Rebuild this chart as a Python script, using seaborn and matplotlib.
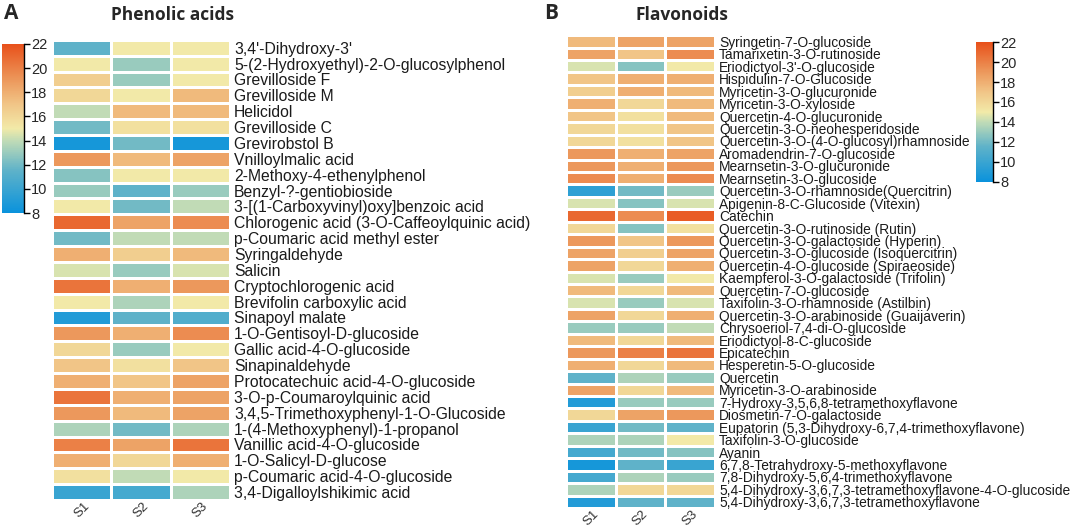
import numpy as np
import pandas as pd
import matplotlib
matplotlib.use("Agg")
import matplotlib.pyplot as plt
import seaborn as sns
from matplotlib.colors import LinearSegmentedColormap

samples = ["S1", "S2", "S3"]

phenolic_names = [
    "3,4'-Dihydroxy-3'",
    "5-(2-Hydroxyethyl)-2-O-glucosylphenol",
    "Grevilloside F",
    "Grevilloside M",
    "Helicidol",
    "Grevilloside C",
    "Grevirobstol B",
    "Vnilloylmalic acid",
    "2-Methoxy-4-ethenylphenol",
    "Benzyl-?-gentiobioside",
    "3-[(1-Carboxyvinyl)oxy]benzoic acid",
    "Chlorogenic acid (3-O-Caffeoylquinic acid)",
    "p-Coumaric acid methyl ester",
    "Syringaldehyde",
    "Salicin",
    "Cryptochlorogenic acid",
    "Brevifolin carboxylic acid",
    "Sinapoyl malate",
    "1-O-Gentisoyl-D-glucoside",
    "Gallic acid-4-O-glucoside",
    "Sinapinaldehyde",
    "Protocatechuic acid-4-O-glucoside",
    "3-O-p-Coumaroylquinic acid",
    "3,4,5-Trimethoxyphenyl-1-O-Glucoside",
    "1-(4-Methoxyphenyl)-1-propanol",
    "Vanillic acid-4-O-glucoside",
    "1-O-Salicyl-D-glucose",
    "p-Coumaric acid-4-O-glucoside",
    "3,4-Digalloylshikimic acid",
]
phenolic_s1 = [11.5, 15.0, 16.5, 16.0, 14.0, 12.0, 8.5, 19.0, 12.5, 13.0, 15.0, 21.0, 12.0, 18.0, 14.5,
               20.5, 15.0, 9.0, 19.0, 16.0, 17.0, 18.0, 20.5, 19.0, 13.5, 20.0, 18.0, 15.5, 10.0]
phenolic_s2 = [15.0, 13.0, 13.0, 15.0, 17.5, 15.5, 12.0, 17.5, 15.0, 11.5, 12.0, 18.5, 14.0, 16.5, 13.0,
               18.0, 13.5, 11.5, 18.0, 13.0, 15.5, 17.0, 18.0, 17.5, 12.0, 18.5, 16.0, 14.0, 10.5]
phenolic_s3 = [15.0, 15.0, 15.0, 17.5, 17.5, 15.5, 8.5, 18.5, 15.0, 13.0, 14.0, 19.5, 14.0, 17.5, 14.5,
               19.0, 15.0, 11.0, 19.5, 15.0, 17.0, 18.5, 18.5, 18.5, 13.5, 20.5, 18.0, 15.0, 13.5]

flavonoid_names = [
    "Syringetin-7-O-glucoside",
    "Tamarixetin-3-O-rutinoside",
    "Eriodictyol-3'-O-glucoside",
    "Hispidulin-7-O-Glucoside",
    "Myricetin-3-O-glucuronide",
    "Myricetin-3-O-xyloside",
    "Quercetin-4-O-glucuronide",
    "Quercetin-3-O-neohesperidoside",
    "Quercetin-3-O-(4-O-glucosyl)rhamnoside",
    "Aromadendrin-7-O-glucoside",
    "Mearnsetin-3-O-glucuronide",
    "Mearnsetin-3-O-glucoside",
    "Quercetin-3-O-rhamnoside(Quercitrin)",
    "Apigenin-8-C-Glucoside (Vitexin)",
    "Catechin",
    "Quercetin-3-O-rutinoside (Rutin)",
    "Quercetin-3-O-galactoside (Hyperin)",
    "Quercetin-3-O-glucoside (Isoquercitrin)",
    "Quercetin-4-O-glucoside (Spiraeoside)",
    "Kaempferol-3-O-galactoside (Trifolin)",
    "Quercetin-7-O-glucoside",
    "Taxifolin-3-O-rhamnoside (Astilbin)",
    "Quercetin-3-O-arabinoside (Guaijaverin)",
    "Chrysoeriol-7,4-di-O-glucoside",
    "Eriodictyol-8-C-glucoside",
    "Epicatechin",
    "Hesperetin-5-O-glucoside",
    "Quercetin",
    "Myricetin-3-O-arabinoside",
    "7-Hydroxy-3,5,6,8-tetramethoxyflavone",
    "Diosmetin-7-O-galactoside",
    "Eupatorin (5,3-Dihydroxy-6,7,4-trimethoxyflavone)",
    "Taxifolin-3-O-glucoside",
    "Ayanin",
    "6,7,8-Tetrahydroxy-5-methoxyflavone",
    "7,8-Dihydroxy-5,6,4-trimethoxyflavone",
    "5,4-Dihydroxy-3,6,7,3-tetramethoxyflavone-4-O-glucoside",
    "5,4-Dihydroxy-3,6,7,3-tetramethoxyflavone",
]
flavonoid_s1 = [17.5, 18.5, 14.5, 17.0, 16.5, 18.0, 17.0, 16.0, 16.0, 19.0, 19.0, 19.5, 9.5, 14.5, 21.0,
                16.0, 19.0, 18.5, 18.5, 14.5, 17.5, 14.5, 18.5, 13.0, 17.5, 19.0, 18.0, 11.5, 18.5,
                9.0, 16.0, 10.0, 13.5, 10.5, 8.5, 10.5, 13.5, 9.0]
flavonoid_s2 = [18.5, 17.0, 12.5, 18.0, 18.0, 16.0, 15.5, 15.5, 15.5, 18.0, 18.0, 18.0, 12.0, 12.5, 19.5,
                12.5, 17.0, 16.5, 16.0, 13.0, 16.0, 13.0, 16.0, 13.0, 16.0, 20.0, 16.0, 13.5, 16.0,
                13.0, 18.5, 12.0, 13.5, 12.0, 11.5, 13.5, 16.0, 11.5]
flavonoid_s3 = [18.5, 19.5, 15.0, 18.0, 17.5, 17.5, 17.5, 17.0, 17.0, 18.5, 19.0, 19.5, 13.0, 14.5, 21.5,
                15.5, 19.0, 18.5, 18.0, 15.0, 17.5, 14.5, 18.0, 14.0, 17.5, 20.5, 17.5, 13.0, 17.5,
                13.0, 19.0, 11.5, 15.0, 12.5, 10.0, 13.0, 16.0, 11.5]

cbar_ticks = [8, 10, 12, 14, 16, 18, 20, 22]

# blue -> teal -> pale yellow -> orange -> red-orange
cmap = LinearSegmentedColormap.from_list(
    "bluered",
    [(0.0, "#0a92dc"), (0.25, "#5eb2c9"), (0.43, "#c2dcb6"), (0.5, "#f2eaa8"),
     (0.64, "#f1c688"), (0.8, "#ec9458"), (1.0, "#e8501a")])

sns.set_theme(style="white")
plt.rcParams['font.family'] = ['Liberation Sans', 'DejaVu Sans']

fig = plt.figure(figsize=(10.72, 5.32), dpi=100)

ax_a = fig.add_axes([0.0485, 0.0602, 0.166, 0.865])
cax_a = fig.add_axes([0.002, 0.5996, 0.0205, 0.318])
ax_b = fig.add_axes([0.528, 0.045, 0.139, 0.889])
cax_b = fig.add_axes([0.9104, 0.658, 0.0159, 0.263])

df_a = pd.DataFrame({"S1": phenolic_s1, "S2": phenolic_s2, "S3": phenolic_s3}, index=phenolic_names)
df_b = pd.DataFrame({"S1": flavonoid_s1, "S2": flavonoid_s2, "S3": flavonoid_s3}, index=flavonoid_names)


def draw_panel(ax, cax, df, label_size):
    sns.heatmap(df[samples], ax=ax, cbar_ax=cax, cmap=cmap, vmin=8, vmax=22,
                linewidths=1.0, linecolor="white",
                cbar_kws={"ticks": cbar_ticks})
    ax.yaxis.tick_right()
    ax.set_yticks(np.arange(len(df)) + 0.5)
    ax.set_yticklabels(df.index, rotation=0, fontsize=label_size, color="#1a1a1a")
    ax.set_xticklabels(samples, rotation=45, fontsize=9.5, color="#333333")
    ax.tick_params(axis="y", length=0, pad=3)
    ax.tick_params(axis="x", length=0, pad=0)
    ax.set_xlabel("")
    ax.set_ylabel("")

    cax.tick_params(axis="y", length=4, width=1, color="black", labelsize=10.5, pad=1, right=True)
    for side in ["left", "top", "bottom"]:
        cax.spines[side].set_visible(False)
    cax.spines["right"].set_visible(True)
    cax.spines["right"].set_color("black")
    cax.spines["right"].set_linewidth(1.0)


draw_panel(ax_a, cax_a, df_a, 11.3)
draw_panel(ax_b, cax_b, df_b, 9.9)

head = ["Open Sans", "DejaVu Sans"]
fig.text(0.161, 0.972, "Phenolic acids", fontsize=12.5, fontweight="bold", ha="center", va="center", family=head)
fig.text(0.636, 0.972, "Flavonoids", fontsize=12.5, fontweight="bold", ha="center", va="center", family=head)
fig.text(0.004, 0.995, "A", fontsize=15, fontweight="bold", va="top", family=head)
fig.text(0.508, 0.995, "B", fontsize=15, fontweight="bold", va="top", family=head)

fig.savefig("out.png", dpi=100)
